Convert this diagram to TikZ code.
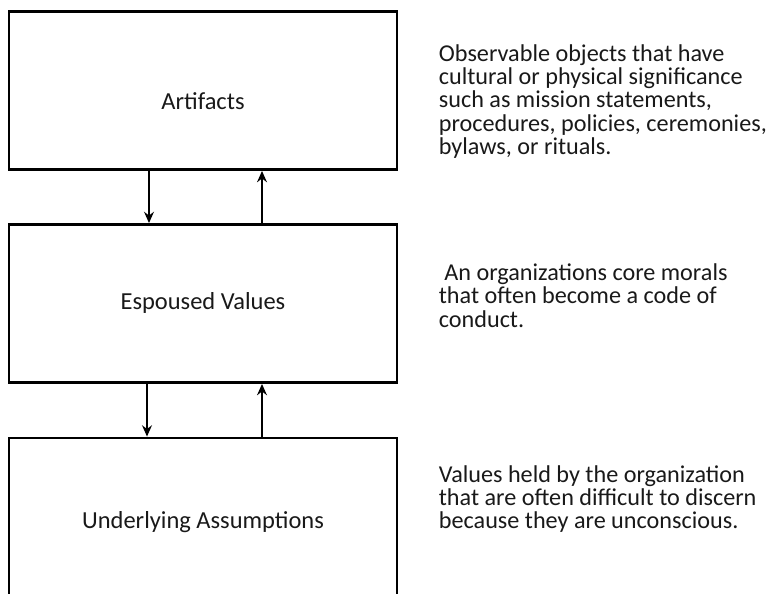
\documentclass[tikz,border=0pt]{standalone}
\usepackage{fontspec}
\setmainfont{Carlito}
\usetikzlibrary{arrows.meta}
\definecolor{inkgray}{RGB}{25,25,25}
\tikzset{
  layerbox/.style={draw=black,line width=2pt,minimum width=9.7cm,minimum height=3.95cm,inner sep=0pt},
  layerlabel/.style={text=inkgray,font=\fontsize{17.4}{20}\selectfont},
  layernote/.style={text=inkgray,anchor=west,align=left,font=\fontsize{17.2}{16.6}\selectfont},
}
\begin{document}
\begin{tikzpicture}[x=0.025cm,y=-0.025cm,>={Stealth[length=8pt,width=7pt]},line width=1.7pt]
			\useasboundingbox (0,0) rectangle (774,593);
			% the three levels
			\node[layerbox] (artifacts) at (203,90.5) {};
			\node[layerbox] (espoused) at (203,303.5) {};
			\begin{scope}
			\clip (0,0) rectangle (774,593);
			\node[layerbox] (assumptions) at (203,517) {};
			\end{scope}
			\node[layerlabel] (artlbl) at (203,101) {Artifacts};
			\node[layerlabel] (esplbl) at (203,303) {Espoused Values};
			\node[layerlabel] (asslbl) at (203,522) {Underlying Assumptions};
			% arrows between levels
			\draw[->] (artifacts.south -| 149,0) -- (espoused.north -| 149,0);
			\draw[->] (espoused.north -| 262,0) -- (artifacts.south -| 262,0);
			\draw[->] (espoused.south -| 147,0) -- (assumptions.north -| 147,0);
			\draw[->] (assumptions.north -| 262,0) -- (espoused.south -| 262,0);
			% descriptions
			\node[layernote] (artnote) at (433,101.5) {Observable objects that have\\cultural or physical significance\\such as mission statements,\\procedures, policies, ceremonies,\\bylaws, or rituals.};
			\node[layernote] (espnote) at (433,295.5) {\ An organizations core morals\\that often become a code of\\conduct.};
			\node[layernote] (assnote) at (433,499) {Values held by the organization\\that are often difficult to discern\\because they are unconscious.};
		\end{tikzpicture}
\end{document}
